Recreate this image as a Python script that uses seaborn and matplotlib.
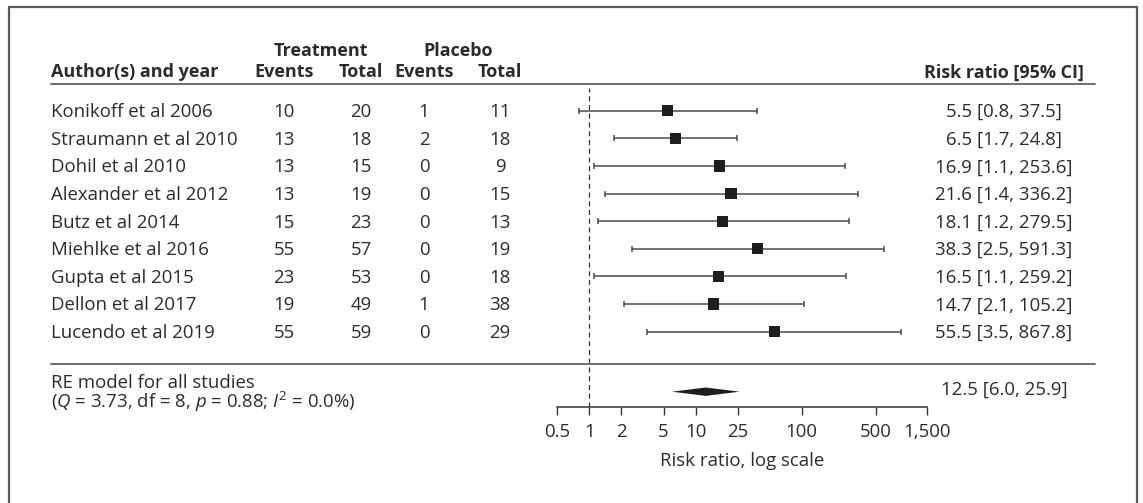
import numpy as np
import pandas as pd
import matplotlib
matplotlib.use("Agg")
import matplotlib.pyplot as plt
from matplotlib.patches import Rectangle
from matplotlib.lines import Line2D
from matplotlib.ticker import NullLocator
from matplotlib.transforms import blended_transform_factory
import seaborn as sns

# ---- data ----
studies = ["Konikoff et al 2006", "Straumann et al 2010", "Dohil et al 2010",
           "Alexander et al 2012", "Butz et al 2014", "Miehlke et al 2016",
           "Gupta et al 2015", "Dellon et al 2017", "Lucendo et al 2019"]
treat_events = [10, 13, 13, 13, 15, 55, 23, 19, 55]
treat_total = [20, 18, 15, 19, 23, 57, 53, 49, 59]
plac_events = [1, 2, 0, 0, 0, 0, 0, 1, 0]
plac_total = [11, 18, 9, 15, 13, 19, 18, 38, 29]
rr = [5.5, 6.5, 16.9, 21.6, 18.1, 38.3, 16.5, 14.7, 55.5]
ci_low = [0.8, 1.7, 1.1, 1.4, 1.2, 2.5, 1.1, 2.1, 3.5]
ci_high = [37.5, 24.8, 253.6, 336.2, 279.5, 591.3, 259.2, 105.2, 867.8]

pooled_rr = 12.5
pooled_low = 6.0
pooled_high = 25.9

tick_values = [0.5, 1, 2, 5, 10, 25, 100, 500, 1500]
tick_labels = ["0.5", "1", "2", "5", "10", "25", "100", "500", "1,500"]

df = pd.DataFrame({"study": studies, "rr": rr, "low": ci_low, "high": ci_high,
                   "row": np.arange(len(studies))})

# ---- style ----
sns.set_theme(style="white")
plt.rcParams["font.family"] = ["Open Sans", "DejaVu Sans"]
plt.rcParams["mathtext.fontset"] = "custom"
plt.rcParams["mathtext.rm"] = "Open Sans"
plt.rcParams["mathtext.it"] = "Open Sans:italic"
txt_col = "#2b2b2b"
fs = 13.4
fs_head = 13.0

W, H = 1143, 503
fig = plt.figure(figsize=(W / 100, H / 100), dpi=100)
fig.patch.set_facecolor("white")

# forest axes: x spans 0.5 .. 1500, top at header rule, bottom at axis line (pixels)
x0, x1 = 557.3, 926.7
ytop, ybot = 84.0, 406.7
row0, step = 110.8, 27.6


def rowy(p):
    # pixel from top -> row units
    return (p - row0) / step


ax = fig.add_axes([x0 / W, 1 - ybot / H, (x1 - x0) / W, (ybot - ytop) / H])
ax.set_xscale("log")
ax.set_xlim(0.5, 1500)
ax.set_ylim(rowy(ybot), rowy(ytop))
ax.patch.set_alpha(0)

# confidence intervals
ax.errorbar(df["rr"], df["row"],
            xerr=[df["rr"] - df["low"], df["high"] - df["rr"]],
            fmt="none", ecolor="#4a4a4a", elinewidth=1.1, capsize=2.4,
            capthick=1.1, zorder=2)
# point estimates
sns.scatterplot(data=df, x="rr", y="row", marker="s", s=64, color="#1e1e1e",
                edgecolor="none", linewidth=0, ax=ax, zorder=3, legend=False)

# pooled estimate diamond
sy = rowy(391.7)
dh = 4.2 / step
ax.fill([pooled_low, pooled_rr, pooled_high, pooled_rr],
        [sy, sy - dh, sy, sy + dh], color="#1e1e1e", lw=0, zorder=3)

# reference line at 1
ax.axvline(1, ymin=0, ymax=(ybot - 88) / (ybot - ytop), color="#333333",
           lw=0.9, ls=(0, (4, 3)), zorder=1)

for s in ["top", "left", "right"]:
    ax.spines[s].set_visible(False)
ax.spines["bottom"].set_color("#333333")
ax.spines["bottom"].set_linewidth(1.1)
ax.set_yticks([])
ax.set_xticks(tick_values)
ax.set_xticklabels(tick_labels)
ax.xaxis.set_minor_locator(NullLocator())
ax.tick_params(axis="x", bottom=True, direction="out", length=5.5, width=1.0,
               color="#333333", pad=6.0, labelsize=fs, labelcolor=txt_col)
ax.set_xlabel("Risk ratio, log scale", fontsize=fs, color=txt_col, labelpad=8.5)
ax.set_ylabel("")

# ---- table text ----
tr = blended_transform_factory(fig.transFigure, ax.transData)


def put(px, py, s, ha="center", bold=False):
    ax.text(px / W, rowy(py), s, transform=tr, ha=ha, va="baseline",
            fontsize=fs_head if bold else fs, color=txt_col,
            fontweight="bold" if bold else "normal", clip_on=False)


col_events_t, col_total_t = 284, 361
col_events_p, col_total_p = 424, 500
col_rr = 1004
left = 51

put((col_events_t + col_total_t) / 2 - 2, 56, "Treatment", bold=True)
put((col_events_p + col_total_p) / 2 - 4, 56, "Placebo", bold=True)
put(left, 76.7, "Author(s) and year", ha="left", bold=True)
put(col_events_t, 76.7, "Events", bold=True)
put(col_total_t, 76.7, "Total", bold=True)
put(col_events_p, 76.7, "Events", bold=True)
put(col_total_p, 76.7, "Total", bold=True)
put(col_rr, 77.5, "Risk ratio [95% CI]", bold=True)

base_off = 6.3
for i, name in enumerate(studies):
    py = row0 + i * step + base_off
    put(left, py, name, ha="left")
    put(col_events_t, py, str(treat_events[i]))
    put(col_total_t, py, str(treat_total[i]))
    put(col_events_p, py, str(plac_events[i]))
    put(col_total_p, py, str(plac_total[i]))
    put(col_rr, py, f"{rr[i]:.1f} [{ci_low[i]:.1f}, {ci_high[i]:.1f}]")

put(left, 387.7, "RE model for all studies", ha="left")
put(left, 408.3, r"($Q$ = 3.73, df = 8, $p$ = 0.88; $I^2$ = 0.0%)", ha="left")
put(col_rr, 395, f"{pooled_rr:.1f} [{pooled_low:.1f}, {pooled_high:.1f}]")

# ---- rules and frame ----
for py in (84.0, 364.0):
    fig.add_artist(Line2D([left / W, 1095 / W], [1 - py / H, 1 - py / H],
                          transform=fig.transFigure, color="#6e6e6e", lw=1.4))
fig.add_artist(Rectangle((9 / W, -0.05), (1137 - 9) / W, 1.05 - 7.3 / H,
                         transform=fig.transFigure, fill=False,
                         edgecolor="#5a5a5a", lw=1.6))

fig.savefig("out.png", dpi=100, facecolor="white")
